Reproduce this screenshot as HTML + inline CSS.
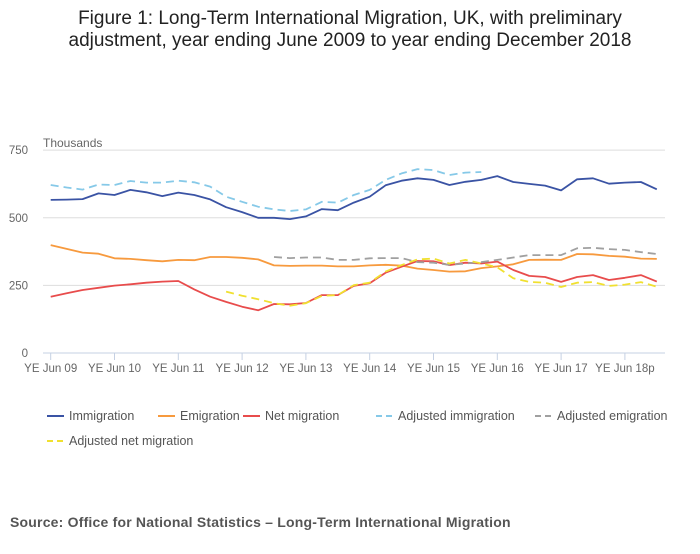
<!DOCTYPE html>
<html><head><meta charset="utf-8"><style>
body{margin:0;background:#fff;width:700px;height:549px;overflow:hidden;font-family:"Liberation Sans",sans-serif;}
</style></head><body>
<svg width="700" height="549" xmlns="http://www.w3.org/2000/svg" font-family="Liberation Sans, sans-serif">
<text x="350" y="24" text-anchor="middle" font-size="19" fill="#222">Figure 1: Long-Term International Migration, UK, with preliminary</text>
<text x="350" y="46" text-anchor="middle" font-size="19" fill="#222">adjustment, year ending June 2009 to year ending December 2018</text>
<text x="43" y="147" font-size="12" fill="#666">Thousands</text>
<g id="grid"></g><g id="axes"></g><g id="lines"></g><g id="legend"></g>
<text x="10" y="527" font-size="14" font-weight="bold" fill="#555" letter-spacing="0.2">Source: Office for National Statistics – Long-Term International Migration</text>
</svg>
<script>
const yTicks=[0,250,500,750];
const xTickLabels=["YE Jun 09","YE Jun 10","YE Jun 11","YE Jun 12","YE Jun 13","YE Jun 14","YE Jun 15","YE Jun 16","YE Jun 17","YE Jun 18p"];
const immigration=[566,567,569,590,584,603,594,580,593,584,568,539,521,500,500,495,505,532,528,556,578,620,637,646,640,621,633,640,654,632,625,619,601,642,646,626,630,632,605];
const emigration=[399,385,371,367,350,348,343,339,344,343,355,355,352,346,324,322,323,323,320,320,324,326,323,312,307,301,302,314,320,328,344,345,344,366,365,359,356,349,348];
const netMigration=[208,221,233,241,249,254,260,264,266,235,208,189,171,158,181,180,185,214,214,248,258,297,319,340,339,325,334,331,338,307,285,281,263,281,288,270,278,288,264];
const adjImmigration=[621,612,604,623,621,636,630,630,637,631,615,578,559,541,531,525,531,559,556,584,603,640,664,680,676,658,667,669];
const adjEmigration=[null,null,null,null,null,null,null,null,null,null,null,null,null,null,355,351,353,353,344,344,350,351,351,336,334,326,331,336,344,353,362,362,362,387,389,384,381,373,366];
const adjNet=[null,null,null,null,null,null,null,null,null,null,null,227,212,199,184,175,184,211,214,251,260,301,325,346,349,331,344,331,317,276,263,260,244,260,262,248,253,262,245];
const NS="http://www.w3.org/2000/svg";
const x=i=>50.7+i*15.95;
const y=v=>353-v*0.2705;
function mk(t,a,p){const e=document.createElementNS(NS,t);for(const k in a)e.setAttribute(k,a[k]);p.appendChild(e);return e;}
const grid=document.getElementById('grid'),axes=document.getElementById('axes'),lines=document.getElementById('lines'),leg=document.getElementById('legend');
yTicks.forEach(v=>{
 if(v>0){const g=mk('line',{x1:43,x2:665,y1:y(v),y2:y(v),stroke:'#ddd','stroke-width':1},grid);
 
 }
 const t=mk('text',{x:28,y:y(v)+4,'text-anchor':'end','font-size':11.5,fill:'#666'},axes);t.textContent=v;
 
 
});
const ax=mk('line',{x1:43,x2:665,y1:353,y2:353,stroke:'#c5d0e3','stroke-width':1},axes);


xTickLabels.forEach((l,k)=>{
 const xi=x(k*4);
 const tk=mk('line',{x1:xi,x2:xi,y1:353,y2:360,stroke:'#c5d0e3'},axes);
 
 
 const t=mk('text',{x:xi,y:372,'text-anchor':'middle','font-size':11.5,fill:'#666'},axes);t.textContent=l;
 
 
});
const series=[
 {d:immigration,c:'#3a53a4',dash:null,n:'immigration-line'},
 {d:emigration,c:'#f79a3e',dash:null,n:'emigration-line'},
 {d:netMigration,c:'#e84c4c',dash:null,n:'net-migration-line'},
 {d:adjImmigration,c:'#86c9e8',dash:'8,5',n:'adjusted-immigration-line'},
 {d:adjEmigration,c:'#a0a0a0',dash:'8,5',n:'adjusted-emigration-line'},
 {d:adjNet,c:'#f0e030',dash:'8,5',n:'adjusted-net-migration-line'}];
series.forEach(s=>{
 let p='';s.d.forEach((v,i)=>{if(v==null)return;p+=(p?'L':'M')+x(i).toFixed(1)+','+y(v).toFixed(1);});
 const a={d:p,fill:'none',stroke:s.c,'stroke-width':1.8,'stroke-linejoin':'round'};if(s.dash)a['stroke-dasharray']=s.dash;
 const e=mk('path',a,lines);
 
 
});
const legItems=[['Immigration','#3a53a4',null,47,416],['Emigration','#f79a3e',null,158,416],['Net migration','#e84c4c',null,243,416],['Adjusted immigration','#86c9e8','6,4',376,416],['Adjusted emigration','#a0a0a0','6,4',535,416],['Adjusted net migration','#f0e030','6,4',47,441]];
legItems.forEach(it=>{
 const g=mk('g',{},leg);
 
 
 const a={x1:it[3],x2:it[3]+17,y1:it[4],y2:it[4],stroke:it[1],'stroke-width':2};if(it[2])a['stroke-dasharray']=it[2];
 mk('line',a,g);
 const t=mk('text',{x:it[3]+22,y:it[4]+4,'font-size':12.5,fill:'#555'},g);t.textContent=it[0];
});
</script>
</body></html>
